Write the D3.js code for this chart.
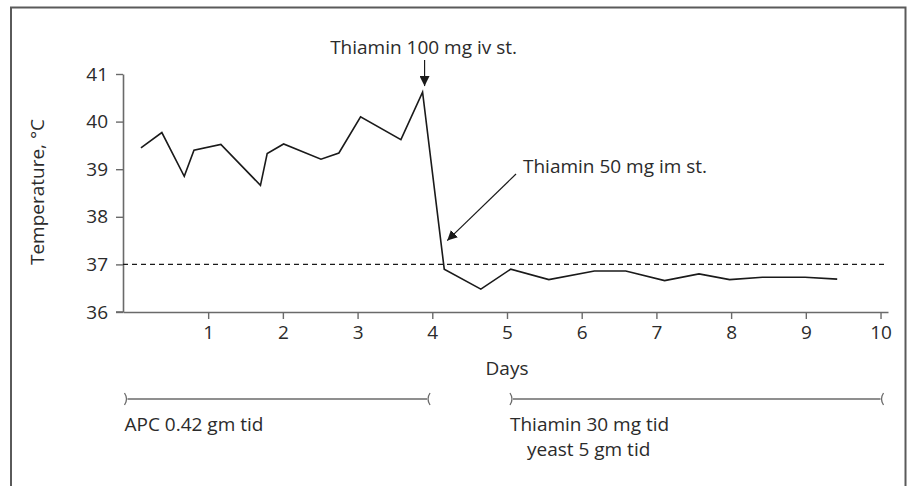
<!DOCTYPE html>
<html><head><meta charset="utf-8">
<script src="https://cdn.jsdelivr.net/npm/d3@7"></script>
<style>body{margin:0;background:#fff}svg{display:block}text{font-family:"Open Sans",sans-serif;fill:#2b2b2b}</style>
</head><body><svg id="c" width="912" height="486"></svg>
<script>
const days = [0.10,0.38,0.68,0.81,1.17,1.70,1.79,2.01,2.51,2.75,3.04,3.58,3.87,4.16,4.65,5.05,5.56,6.17,6.59,7.11,7.57,7.98,8.42,8.99,9.42];
const temps = [39.45,39.77,38.85,39.40,39.52,38.66,39.33,39.53,39.21,39.34,40.10,39.62,40.62,36.90,36.48,36.90,36.68,36.86,36.86,36.66,36.80,36.68,36.73,36.73,36.69];
const xTicks = [1,2,3,4,5,6,7,8,9,10];
const yTicks = [36,37,38,39,40,41];
const normalTemp = 37;
const treatments = [
  {from:-0.12, to:3.97, lines:["APC 0.42 gm tid"]},
  {from:5.04, to:10.04, lines:["Thiamin 30 mg tid","yeast 5 gm tid"]}
];
const notes = [
  {text:"Thiamin 100 mg iv st."},
  {text:"Thiamin 50 mg im st."}
];

const FS = "19px";
const svg = d3.select("#c");
const x = d3.scaleLinear().domain([-0.14,10.1]).range([123,888]);
const y = d3.scaleLinear().domain([36,41]).range([312,74]);
const axisCol = "#6a6a6a";

svg.append("defs").append("marker").attr("id","ah").attr("viewBox","0 0 10 10")
  .attr("refX",10).attr("refY",5).attr("markerWidth",10).attr("markerHeight",10)
  .attr("markerUnits","userSpaceOnUse").attr("orient","auto")
  .append("path").attr("d","M0,0 L10,5 L0,10 Z").attr("fill","#1a1a1a");

// frame
svg.append("rect").attr("x",11).attr("y",7.5).attr("width",894.5).attr("height",500)
  .attr("fill","none").attr("stroke","#5a5a5a").attr("stroke-width",2);

// axes
const gx = svg.append("g").attr("transform","translate(0,312)")
  .call(d3.axisBottom(x).tickValues(xTicks).tickFormat(d3.format("d")).tickSize(7).tickSizeOuter(0).tickPadding(7));
const gy = svg.append("g").attr("transform","translate(123,0)")
  .call(d3.axisLeft(y).tickValues(yTicks).tickFormat(d3.format("d")).tickSize(7).tickSizeOuter(0).tickPadding(8));
[gx,gy].forEach(g=>{
  g.attr("font-size",null).attr("font-family",null);
  g.select(".domain").attr("stroke",axisCol).attr("stroke-width",1.6);
  g.selectAll(".tick line").attr("stroke",axisCol).attr("stroke-width",1.4);
  g.selectAll(".tick text").style("font-size",FS).attr("fill","#2b2b2b");
});
svg.append("line").attr("x1",116).attr("x2",123).attr("y1",312).attr("y2",312).attr("stroke",axisCol).attr("stroke-width",1.6);

// dashed normal line
svg.append("line").attr("x1",x.range()[0]).attr("x2",x.range()[1])
  .attr("y1",y(normalTemp)).attr("y2",y(normalTemp))
  .attr("stroke","#1a1a1a").attr("stroke-width",1.3).attr("stroke-dasharray","5,4");

// data line
const pts = days.map((d,i)=>[d,temps[i]]);
svg.append("path").datum(pts).attr("fill","none").attr("stroke","#1a1a1a").attr("stroke-width",1.6)
  .attr("d",d3.line().x(d=>x(d[0])).y(d=>y(d[1])));

// labels
svg.append("text").attr("x",507).attr("y",375).attr("text-anchor","middle").style("font-size",FS).text("Days");
svg.append("text").attr("transform","translate(44,192) rotate(-90)").attr("text-anchor","middle").style("font-size",FS).text("Temperature, °C");

// annotation 1
const pk = 12;
svg.append("text").attr("x",x(days[pk])+1).attr("y",54).attr("text-anchor","middle").style("font-size",FS).text(notes[0].text);
svg.append("line").attr("x1",x(days[pk])+2).attr("x2",x(days[pk])+2).attr("y1",60).attr("y2",y(temps[pk])-6)
  .attr("stroke","#1a1a1a").attr("stroke-width",1.2).attr("marker-end","url(#ah)");
// annotation 2
svg.append("text").attr("x",523).attr("y",173).style("font-size",FS).text(notes[1].text);
svg.append("line").attr("x1",516).attr("y1",174).attr("x2",x(4.2)).attr("y2",y(37.5))
  .attr("stroke","#1a1a1a").attr("stroke-width",1.2).attr("marker-end","url(#ah)");

// treatment brackets
const by = 399;
treatments.forEach(t=>{
  const a = x(t.from), b = x(t.to);
  svg.append("line").attr("x1",a+3).attr("x2",b-3).attr("y1",by).attr("y2",by).attr("stroke",axisCol).attr("stroke-width",1.6);
  svg.append("path").attr("d",`M${a},${by-6} Q${a+4},${by} ${a},${by+6}`).attr("fill","none").attr("stroke",axisCol).attr("stroke-width",1.3);
  svg.append("path").attr("d",`M${b},${by-6} Q${b-4},${by} ${b},${by+6}`).attr("fill","none").attr("stroke",axisCol).attr("stroke-width",1.3);
  t.lines.forEach((ln,i)=>{
    svg.append("text").attr("x",a + (i? 17:0)).attr("y",431 + i*25).style("font-size",FS).text(ln);
  });
});
</script></body></html>
